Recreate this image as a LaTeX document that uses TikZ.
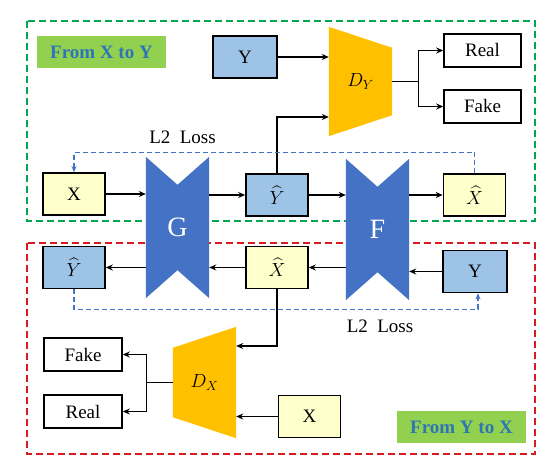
\RequirePackage{fix-cm}
\documentclass[tikz,border=0pt]{standalone}
\usepackage{fontspec}
\setmainfont{Liberation Serif}
\usepackage{amsmath}
\usetikzlibrary{arrows.meta,positioning}
\definecolor{cgblue}{RGB}{157,195,230}
\definecolor{cgyellow}{RGB}{255,255,204}
\definecolor{cgnet}{RGB}{68,114,196}
\definecolor{cgorange}{RGB}{255,192,0}
\definecolor{cglabel}{RGB}{146,208,80}
\definecolor{cgtext}{RGB}{46,117,182}
\definecolor{cggreen}{RGB}{0,166,81}
\definecolor{cgred}{RGB}{217,25,32}
\begin{document}
\begin{tikzpicture}[x=1pt,y=-1pt,
  every node/.style={font=\fontsize{19}{22}\selectfont},
  imgbox/.style={draw=black, line width=1.6pt, minimum width=62pt, minimum height=42pt, inner sep=0pt},
  outbox/.style={draw=black, line width=1.6pt, minimum width=77pt, minimum height=33pt, inner sep=0pt},
  netnode/.style={minimum width=63pt, minimum height=141pt, inner sep=0pt, text=white, font=\fontsize{28}{30}\selectfont},
  discnode/.style={minimum width=63pt, minimum height=109pt, inner sep=0pt},
  tagbox/.style={fill=cglabel, text=cgtext, font=\fontsize{19}{22}\selectfont\bfseries, minimum width=129pt, minimum height=32pt, inner sep=0pt},
  arr/.style={-{Stealth[length=7pt,width=6pt]}, line width=1.3pt},
  loss/.style={cgnet, dashed, dash pattern=on 5pt off 3pt, line width=1.3pt}]
\useasboundingbox (0,0) rectangle (553,468);
% Domain frames
\draw[cggreen, line width=1.6pt, dash pattern=on 7pt off 4pt] (27,21) rectangle (535,221);
\draw[cgred, line width=1.6pt, dash pattern=on 7pt off 4pt] (27,243) rectangle (535,454);
\node[tagbox] (tagxy) at (101.5,52) {From X to Y};
\node[tagbox] (tagyx) at (461.5,427) {From Y to X};
% Generators
\node[netnode] (G) at (177.5,227.5) {};
\fill[cgnet] (G.north west) -- ([yshift=-28pt]G.north) -- (G.north east) -- (G.south east)
  -- ([yshift=28pt]G.south) -- (G.south west) -- cycle;
\node[netnode] at (G) {G};
\node[netnode] (F) at (377.5,229.5) {};
\fill[cgnet] (F.north west) -- ([yshift=-28pt]F.north) -- (F.north east) -- (F.south east)
  -- ([yshift=28pt]F.south) -- (F.south west) -- cycle;
\node[netnode] at (F) {F};
% Discriminators
\node[discnode] (DY) at (360.5,81.5) {};
\fill[cgorange] (DY.north west) -- ([yshift=-21pt]DY.north east) -- ([yshift=21pt]DY.south east)
  -- (DY.south west) -- cycle;
\node at (DY) {$D_Y$};
\node[discnode, minimum height=111pt] (DX) at (204.5,382.5) {};
\fill[cgorange] ([yshift=-21pt]DX.north west) -- (DX.north east) -- (DX.south east)
  -- ([yshift=21pt]DX.south west) -- cycle;
\node at (DX) {$D_X$};
% Top row: X -> G -> Y^ -> F -> X^
\node[imgbox, fill=cgblue, minimum width=64pt] (ytop) at (245,57) {Y};
\node[outbox] (real1) at (482.5,50.5) {Real};
\node[outbox] (fake1) at (482.5,106.5) {Fake};
\node[imgbox, fill=cgyellow] (xa) at (74,194) {X};
\node[imgbox, fill=cgblue] (yhat1) at (277,195) {$\widehat{Y}$};
\node[imgbox, fill=cgyellow] (xhat1) at (474.5,195) {$\widehat{X}$};
% Bottom row: Y -> F -> X^ -> G -> Y^
\node[imgbox, fill=cgblue] (yhat2) at (74,267.5) {$\widehat{Y}$};
\node[imgbox, fill=cgyellow] (xhat2) at (277,267.5) {$\widehat{X}$};
\node[imgbox, fill=cgblue, minimum width=64pt] (ybot) at (475,271.5) {Y};
\node[imgbox, fill=cgyellow] (xbot) at (309.5,416.5) {X};
\node[outbox, minimum width=78pt] (fake2) at (83,354.5) {Fake};
\node[outbox, minimum width=78pt] (real2) at (83,411.5) {Real};
% Loss labels
\node (losstop) at (182.5,137) {L2\ \ Loss};
\node (lossbot) at (380,326) {L2\ \ Loss};
% Forward arrows
\draw[arr] (ytop.east) -- (ytop -| DY.west);
\draw[arr] (yhat1.north) |- ([yshift=-35.5pt]DY.west);
\draw[line width=1.3pt] (DY.east) -- ++(26,0) coordinate (dysplit);
\draw[arr] (dysplit) |- (real1.west);
\draw[arr] (dysplit) |- (fake1.west);
\draw[arr] (xa.east) -- (xa -| G.west);
\draw[arr] (G.east |- yhat1) -- (yhat1.west);
\draw[arr] (yhat1.east) -- (yhat1 -| F.west);
\draw[arr] (F.east |- xhat1) -- (xhat1.west);
% Backward arrows
\draw[arr] (ybot.west) -- (ybot -| F.east);
\draw[arr] (F.west |- xhat2) -- (xhat2.east);
\draw[arr] (xhat2.west) -- (xhat2 -| G.east);
\draw[arr] (G.west |- yhat2) -- (yhat2.east);
\draw[arr] (xhat2.south) |- ([yshift=36.5pt]DX.east);
\draw[arr] (xbot.west) -- (xbot -| DX.east);
\draw[line width=1.3pt] (DX.west) -- ++(-26,0) coordinate (dxsplit);
\draw[arr] (dxsplit) |- (fake2.east);
\draw[arr] (dxsplit) |- (real2.east);
% Cycle losses
\draw[loss, -{Stealth[length=6pt,width=5pt]}] (xhat1.north) -- ++(0,-21) -| (xa.north);
\draw[loss, -{Stealth[length=6pt,width=5pt]}] (yhat2.south) -- ++(0,20) -| ([xshift=3pt]ybot.south);
\end{tikzpicture}
\end{document}
